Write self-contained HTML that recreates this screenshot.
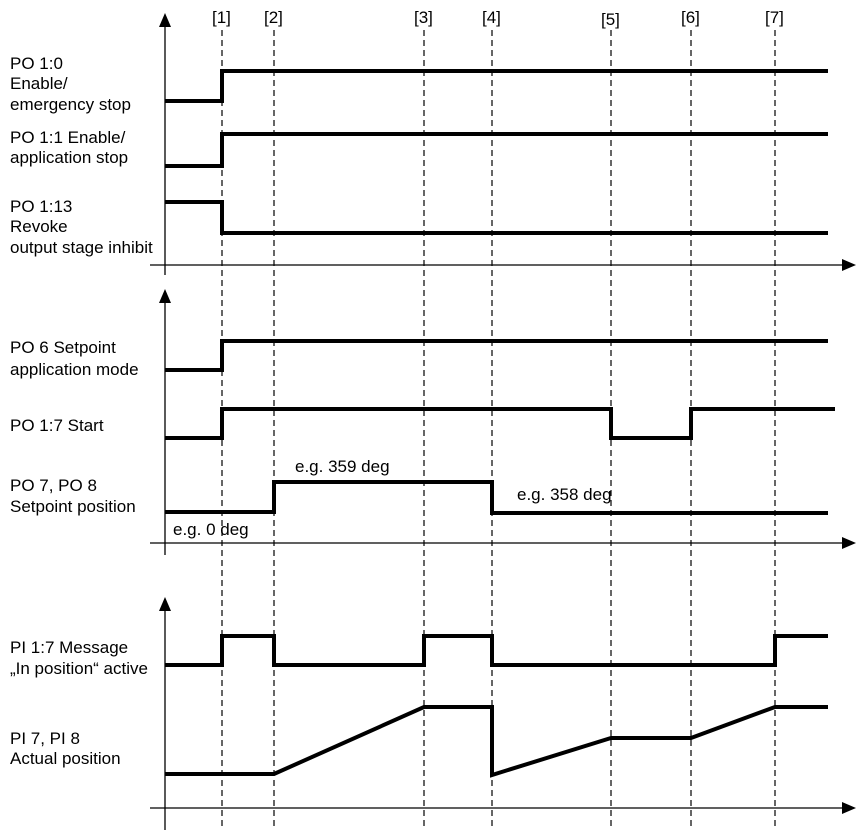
<!DOCTYPE html>
<html><head><style>body{margin:0;background:#fff}svg{display:block}text{font-family:"Liberation Sans",sans-serif;font-size:17px;fill:#000}</style></head><body>
<svg width="856" height="830" viewBox="0 0 856 830">
<g stroke="#000" stroke-width="1.2" stroke-dasharray="6,4" fill="none">
<line x1="222" y1="30" x2="222" y2="830"/><line x1="274" y1="30" x2="274" y2="830"/><line x1="424" y1="30" x2="424" y2="830"/><line x1="492" y1="30" x2="492" y2="830"/><line x1="611" y1="30" x2="611" y2="830"/><line x1="691" y1="30" x2="691" y2="830"/><line x1="775" y1="30" x2="775" y2="830"/>
</g>
<g style="font-size:16px"><text x="212" y="23">[1]</text><text x="264" y="23">[2]</text><text x="414" y="23">[3]</text><text x="482" y="23">[4]</text><text x="601" y="25">[5]</text><text x="681" y="23">[6]</text><text x="765" y="23">[7]</text></g>
<g stroke="#000" stroke-width="1.3">
<line x1="165" y1="22" x2="165" y2="275"/><line x1="150" y1="265" x2="845" y2="265"/>
<line x1="165" y1="298" x2="165" y2="555"/><line x1="150" y1="543" x2="845" y2="543"/>
<line x1="165" y1="605" x2="165" y2="830"/><line x1="150" y1="808" x2="845" y2="808"/>
</g>
<g fill="#000">
<polygon points="165,13 159,27 171,27"/><polygon points="165,289 159,303 171,303"/><polygon points="165,597 159,611 171,611"/>
<polygon points="856,265 842,259 842,271"/><polygon points="856,543 842,537 842,549"/><polygon points="856,808 842,802 842,814"/>
</g>
<g stroke="#000" stroke-width="4" fill="none" stroke-linejoin="miter">
<polyline points="165,101 222,101 222,71 828,71"/>
<polyline points="165,166 222,166 222,134 828,134"/>
<polyline points="165,202 222,202 222,233 828,233"/>
<polyline points="165,370 222,370 222,341 828,341"/>
<polyline points="165,438 222,438 222,409 611,409 611,438 691,438 691,409 835,409"/>
<polyline points="165,512 274,512 274,482 492,482 492,513 828,513"/>
<polyline points="165,665 222,665 222,636 274,636 274,665 424,665 424,636 492,636 492,665 775,665 775,636 828,636"/>
<polyline points="165,774 274,774 424,707 492,707 492,775 611,738 691,738 775,707 828,707"/>
</g>
<text x="10" y="69">PO 1:0</text><text x="10" y="89">Enable/</text><text x="10" y="110">emergency stop</text>
<text x="10" y="143">PO 1:1 Enable/</text><text x="10" y="163">application stop</text>
<text x="10" y="212">PO 1:13</text><text x="10" y="232">Revoke</text><text x="10" y="253">output stage inhibit</text>
<text x="10" y="353">PO 6 Setpoint</text><text x="10" y="375">application mode</text>
<text x="10" y="431">PO 1:7 Start</text>
<text x="10" y="491">PO 7, PO 8</text><text x="10" y="512">Setpoint position</text>
<text x="173" y="535">e.g. 0 deg</text><text x="295" y="472">e.g. 359 deg</text><text x="517" y="500">e.g. 358 deg</text>
<text x="10" y="653">PI 1:7 Message</text><text x="10" y="674">„In position“ active</text>
<text x="10" y="744">PI 7, PI 8</text><text x="10" y="764">Actual position</text>
</svg>
</body></html>
